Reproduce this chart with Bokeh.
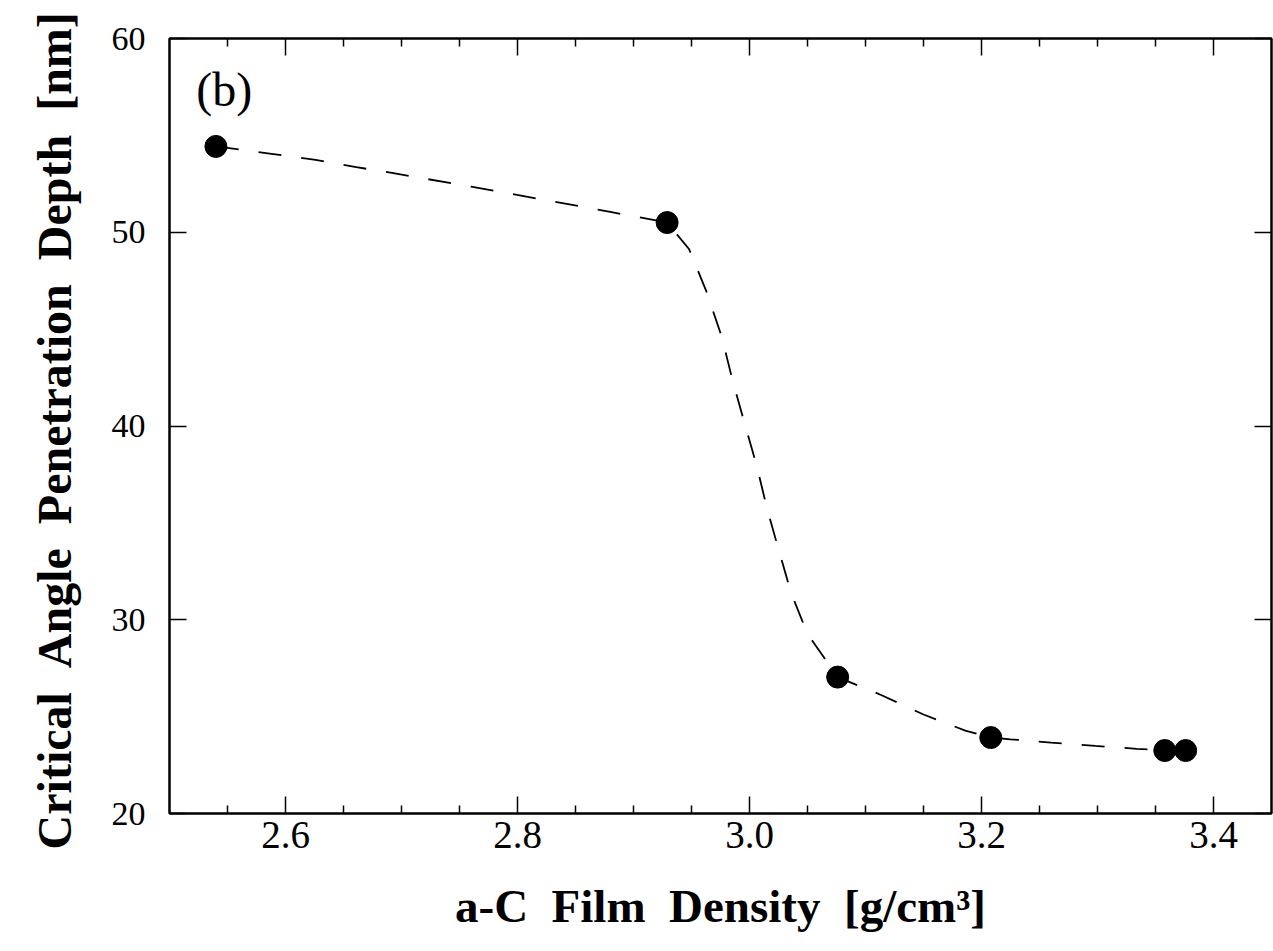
from bokeh.plotting import figure
from bokeh.models import Range1d, FixedTicker, LinearAxis, Label, PrintfTickFormatter
from bokeh.embed import file_html
from bokeh.resources import INLINE

# ---- data ----
density = [2.540, 2.929, 3.076, 3.208, 3.358, 3.376]
depth = [54.43, 50.50, 27.04, 23.92, 23.25, 23.25]

# dashed guide curve
curve_x = [2.540, 2.588, 2.626, 2.661, 2.693, 2.760, 2.830, 2.880, 2.929,
           2.948, 2.963, 2.976, 2.985, 2.995, 3.006, 3.015, 3.025, 3.036,
           3.050, 3.076, 3.113, 3.150, 3.186, 3.208, 3.225, 3.260, 3.298,
           3.334, 3.358, 3.376]
curve_y = [54.43, 54.05, 53.74, 53.36, 53.05, 52.35, 51.60, 51.05, 50.50,
           49.12, 46.92, 44.62, 42.45, 40.29, 38.00, 35.77, 33.64, 31.36,
           29.27, 27.04, 26.13, 25.11, 24.28, 23.92, 23.83, 23.66, 23.49,
           23.34, 23.25, 23.25]

x_ticks = [2.6, 2.8, 3.0, 3.2, 3.4]
x_minor = [2.55, 2.65, 2.70, 2.75, 2.85, 2.90, 2.95, 3.05, 3.10, 3.15,
           3.25, 3.30, 3.35]
y_ticks = [20, 30, 40, 50, 60]

GAP = "\u2002"
x_title = GAP.join(["a-C", "Film", "Density", "[g/cm³]"])
y_title = GAP.join(["Critical", "Angle", "Penetration", "Depth", "[nm]"]) + "\u2009"
panel_tag = "(b)"

SERIF = "Liberation Serif"

p = figure(width=1273, height=951, output_backend="svg", toolbar_location=None,
           x_range=Range1d(2.5, 3.45), y_range=Range1d(20, 60),
           min_border_left=169, min_border_right=2, min_border_top=38,
           min_border_bottom=138)
p.background_fill_color = "white"
p.border_fill_color = "white"
p.xgrid.visible = False
p.ygrid.visible = False
p.outline_line_color = "black"
p.outline_line_width = 2

xt = FixedTicker(ticks=x_ticks, minor_ticks=x_minor)
yt = FixedTicker(ticks=y_ticks)

def style_axis(ax, show_labels):
    ax.axis_line_color = "black"
    ax.axis_line_width = 2
    ax.major_tick_in = 17
    ax.major_tick_out = 0
    ax.minor_tick_in = 8
    ax.minor_tick_out = 0
    ax.major_tick_line_width = 1.5
    ax.minor_tick_line_width = 1.5
    ax.major_tick_line_color = "black"
    ax.minor_tick_line_color = "black"
    if not show_labels:
        ax.major_label_text_font_size = "1px"
        ax.major_label_text_color = None
        ax.major_label_standoff = 0

xa = p.xaxis[0]
xa.ticker = xt
xa.formatter = PrintfTickFormatter(format="%.1f")
style_axis(xa, True)
xa.major_label_text_font = SERIF
xa.major_label_text_font_size = "39px"
xa.major_label_text_color = "black"
xa.major_label_standoff = 8
xa.axis_label = x_title
xa.axis_label_text_font = SERIF
xa.axis_label_text_font_style = "bold"
xa.axis_label_text_font_size = "47px"
xa.axis_label_text_color = "black"
xa.axis_label_standoff = 29

ya = p.yaxis[0]
ya.ticker = yt
ya.formatter = PrintfTickFormatter(format="%d")
style_axis(ya, True)
ya.minor_tick_in = 0
ya.major_label_text_font = SERIF
ya.major_label_text_font_size = "34px"
ya.major_label_text_color = "black"
ya.major_label_standoff = 24
ya.axis_label = y_title
ya.axis_label_text_font = SERIF
ya.axis_label_text_font_style = "bold"
ya.axis_label_text_font_size = "48px"
ya.axis_label_text_color = "black"
ya.axis_label_standoff = 28

top = LinearAxis(ticker=xt)
style_axis(top, False)
p.add_layout(top, "above")

right = LinearAxis(ticker=yt)
style_axis(right, False)
right.minor_tick_in = 0
p.add_layout(right, "right")

p.line(curve_x, curve_y, line_color="black", line_width=1.8, line_dash="23 20")
p.scatter(density, depth, size=22, fill_color="black", line_color="black")

p.add_layout(Label(x=2.523, y=58.72, text=panel_tag, text_font=SERIF,
                   text_font_size="48px", text_baseline="top", text_color="black"))

open("out.html", "w").write(file_html(p, INLINE))
